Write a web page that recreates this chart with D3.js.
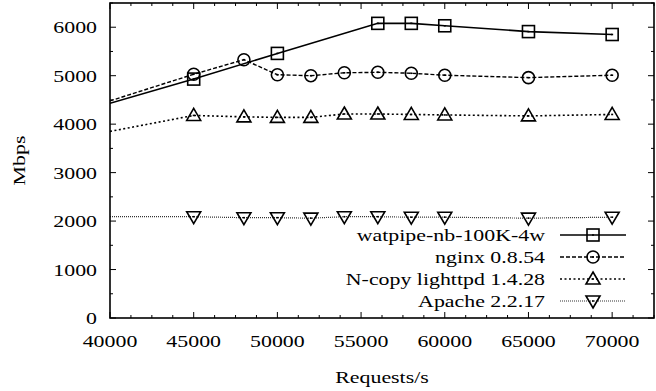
<!DOCTYPE html>
<html><head><meta charset="utf-8">
<script src="https://cdn.jsdelivr.net/npm/d3@7"></script>
<style>body{margin:0;background:#fff}svg{display:block}</style>
</head><body><div id="c"></div>
<script>
const seriesNames = ["watpipe-nb-100K-4w","nginx 0.8.54","N-copy lighttpd 1.4.28","Apache 2.2.17"];
const watpipeX = [40000,45000,50000,56000,58000,60000,65000,70000];
const watpipeY = [4430,4930,5460,6080,6080,6030,5910,5850];
const nginxX = [40000,45000,48000,50000,52000,54000,56000,58000,60000,65000,70000];
const nginxY = [4480,5030,5330,5020,5000,5060,5070,5050,5010,4960,5010];
const lighttpdX = [40000,45000,48000,50000,52000,54000,56000,58000,60000,65000,70000];
const lighttpdY = [3850,4180,4150,4140,4140,4210,4210,4200,4190,4170,4200];
const apacheX = [40000,45000,48000,50000,52000,54000,56000,58000,60000,65000,70000];
const apacheY = [2090,2090,2070,2070,2060,2090,2090,2080,2080,2060,2080];
const xTicks = [40000,45000,50000,55000,60000,65000,70000];
const yTicks = [0,1000,2000,3000,4000,5000,6000];
const xDomain = [40000,72500];
const yDomain = [0,6500];

const W=656,H=391;
const L=110,R=654,T=3,B=318;
const FS=17.5, SX=1.25;
const svg=d3.select("#c").append("svg").attr("width",W).attr("height",H);
const x=d3.scaleLinear().domain(xDomain).range([L,R]);
const y=d3.scaleLinear().domain(yDomain).range([B,T]);

function txt(g,xp,yp,s,anchor,rot){
  const gg=g.append("g").attr("transform",`translate(${xp},${yp})`+(rot?` rotate(${rot})`:"")+` scale(${SX},1)`);
  gg.append("text").attr("font-family","'Liberation Serif','Times New Roman',serif")
    .attr("font-size",FS).attr("text-anchor",anchor).attr("fill","#000").text(s);
}

// ticks
const tg=svg.append("g").attr("stroke","#000").attr("stroke-width",1);
const xMinor=d3.range(xDomain[0],xDomain[1]+1,1250);
xMinor.forEach(v=>{const major=v%5000===0;const len=major?6:3;
  tg.append("line").attr("x1",x(v)).attr("x2",x(v)).attr("y1",B).attr("y2",B-len);
  tg.append("line").attr("x1",x(v)).attr("x2",x(v)).attr("y1",T).attr("y2",T+len);});
const yMinor=d3.range(yDomain[0],yDomain[1]+1,500);
yMinor.forEach(v=>{const major=v%1000===0;const len=major?6:3;
  tg.append("line").attr("y1",y(v)).attr("y2",y(v)).attr("x1",L).attr("x2",L+len);
  tg.append("line").attr("y1",y(v)).attr("y2",y(v)).attr("x1",R).attr("x2",R-len);});

const lg=svg.append("g");
xTicks.forEach(v=>txt(lg,x(v),347,String(v),"middle"));
yTicks.forEach(v=>txt(lg,97,y(v)+6,String(v),"end"));
txt(lg,(L+R)/2,383,"Requests/s","middle");
txt(lg,25,(T+B)/2,"Mbps","middle",-90);

svg.append("defs").append("clipPath").attr("id","clip").append("rect")
  .attr("x",L).attr("y",T).attr("width",R-L).attr("height",B-T);

const series=[
 {xs:watpipeX,ys:watpipeY,dash:null,sw:1.6,color:"#000",m:"square"},
 {xs:nginxX,ys:nginxY,dash:"4,2",sw:1.4,color:"#000",m:"circle"},
 {xs:lighttpdX,ys:lighttpdY,dash:"2,2.5",sw:1.6,color:"#000",m:"up"},
 {xs:apacheX,ys:apacheY,dash:"1,1",sw:1.2,color:"#333",m:"down"}
];
const line=d3.line().x(d=>x(d[0])).y(d=>y(d[1]));
function marker(g,cx,cy,m){
  const s=6;
  if(m==="square") g.append("rect").attr("x",cx-s).attr("y",cy-s).attr("width",2*s).attr("height",2*s);
  else if(m==="circle") g.append("circle").attr("cx",cx).attr("cy",cy).attr("r",s);
  else if(m==="up") g.append("path").attr("d",`M${cx},${cy-7}L${cx+7},${cy+5}L${cx-7},${cy+5}Z`);
  else g.append("path").attr("d",`M${cx},${cy+7}L${cx+7},${cy-5}L${cx-7},${cy-5}Z`);
  g.append("line").attr("x1",cx-1).attr("x2",cx+1).attr("y1",cy).attr("y2",cy);
}
const pg=svg.append("g").attr("clip-path","url(#clip)");
series.forEach(s=>{
  const pts=s.xs.map((v,i)=>[v,s.ys[i]]);
  pg.append("path").attr("d",line(pts)).attr("fill","none").attr("stroke",s.color)
    .attr("stroke-width",s.sw).attr("stroke-dasharray",s.dash);
});
series.forEach(s=>{
  const mg=pg.append("g").attr("fill","none").attr("stroke","#000").attr("stroke-width",1.6);
  s.xs.forEach((v,i)=>{ if(v>xDomain[0]) marker(mg,x(v),y(s.ys[i]),s.m); });
});

// legend
const legY=[235,257,279,301];
series.forEach((s,i)=>{
  txt(lg,545,legY[i]+6,seriesNames[i],"end");
  svg.append("line").attr("x1",560).attr("x2",626).attr("y1",legY[i]).attr("y2",legY[i])
    .attr("stroke",s.color).attr("stroke-width",s.sw).attr("stroke-dasharray",s.dash);
  const mg=svg.append("g").attr("fill","none").attr("stroke","#000").attr("stroke-width",1.6);
  marker(mg,593,legY[i],s.m);
});

// frame
svg.append("rect").attr("x",L).attr("y",T).attr("width",R-L).attr("height",B-T)
  .attr("fill","none").attr("stroke","#000").attr("stroke-width",1.6);
</script></body></html>
